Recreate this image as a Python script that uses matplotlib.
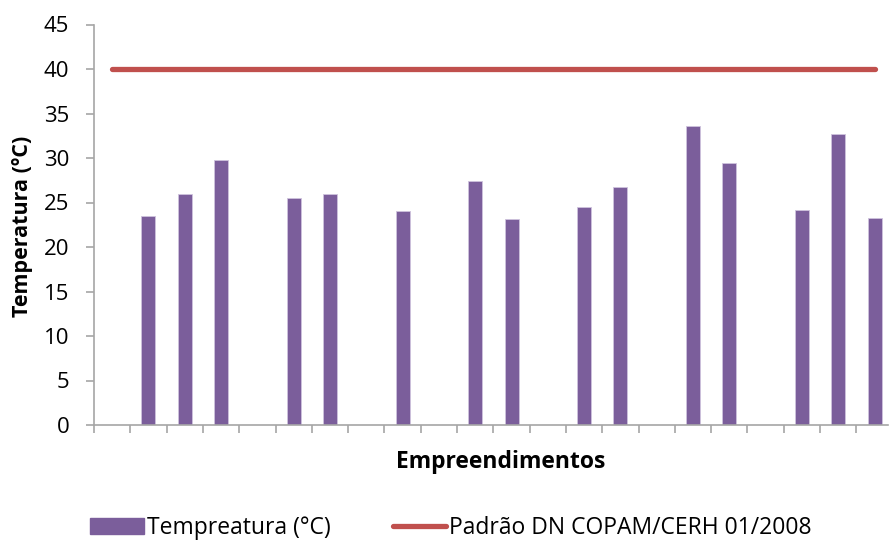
import matplotlib
matplotlib.use("Agg")
import matplotlib.pyplot as plt
from matplotlib.patches import Patch
from matplotlib.lines import Line2D
import numpy as np

plt.rcParams['font.family'] = ['Open Sans', 'DejaVu Sans']

# 22 sampling slots along the x axis; None means no measurement in that slot
temperatura = [None, 23.5, 26.0, 29.8, None, 25.5, 26.0, None, 24.0, None,
               27.4, 23.1, None, 24.5, 26.7, None, 33.6, 29.4, None, 24.2,
               32.7, 23.3]
padrao = [40] * len(temperatura)
y_ticks = [0, 5, 10, 15, 20, 25, 30, 35, 40, 45]

bar_color = '#7B5E9B'
line_color = '#C0504D'
axis_color = '#A6A6A6'

fig = plt.figure(figsize=(8.92, 5.42), dpi=100)
ax = fig.add_axes([94 / 892, (542 - 425) / 542, (888 - 94) / 892, (425 - 24.5) / 542])

x = np.arange(len(temperatura))
vals = np.array([v if v is not None else 0 for v in temperatura])
mask = np.array([v is not None for v in temperatura])
ax.bar(x[mask], vals[mask], width=0.385, color=bar_color,
       edgecolor='#CFC3DD', linewidth=0.6, zorder=2)
ax.plot(x, padrao, color=line_color, linewidth=3.8, solid_capstyle='round', zorder=3)

ax.set_xlim(-0.5, 21.37)
ax.set_ylim(0, 45)
ax.set_yticks(y_ticks)
ax.set_xticks(np.arange(len(temperatura)) - 0.5)
ax.set_xticklabels([])

for s in ['top', 'right']:
    ax.spines[s].set_visible(False)
for s in ['left', 'bottom']:
    ax.spines[s].set_color(axis_color)
    ax.spines[s].set_linewidth(1.2)
ax.tick_params(axis='y', colors=axis_color, length=5.8, width=1.2, labelcolor='black',
               labelsize=16, pad=12)
ax.tick_params(axis='x', colors=axis_color, length=5.8, width=1.2)

ax.set_xlabel('Empreendimentos', fontsize=16.5, fontweight='bold')
ax.xaxis.set_label_coords((501 - 94) / 794, (425 - 450) / 400.5)
ax.set_ylabel('Temperatura (ºC)', fontsize=15.5, fontweight='bold')
ax.yaxis.set_label_coords((33 - 94) / 794, 0.495)

handles = [Patch(facecolor=bar_color, edgecolor=bar_color),
           Line2D([0], [0], color=line_color, linewidth=3.8, solid_capstyle='round')]
labels = ['Tempreatura (°C)', 'Padrão DN COPAM/CERH 01/2008']
fig.legend(handles, labels, loc='center', ncol=2, frameon=False, fontsize=16.5,
           bbox_to_anchor=(451 / 892, 1 - 528 / 542), handlelength=2.35,
           handleheight=0.75, handletextpad=0.13, columnspacing=2.7,
           borderpad=0, borderaxespad=0)

fig.savefig('out.png', dpi=100)
